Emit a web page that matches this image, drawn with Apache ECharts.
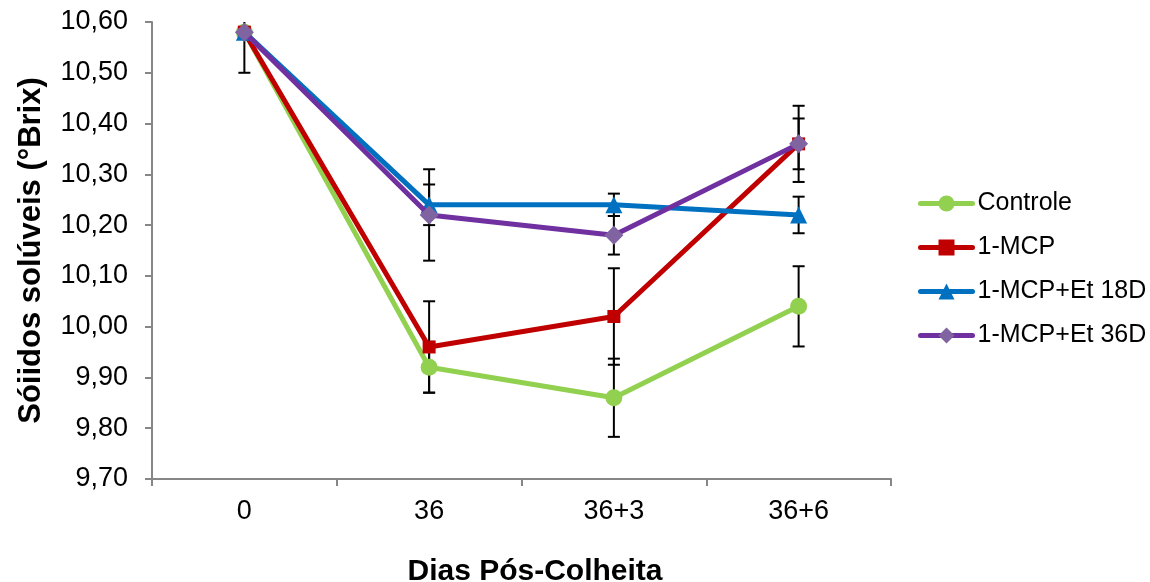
<!DOCTYPE html>
<html>
<head>
<meta charset="utf-8">
<script src="https://cdn.jsdelivr.net/npm/echarts@6/dist/echarts.min.js"></script>
<style>
html,body{margin:0;padding:0;background:#fff;}
#chart{width:1150px;height:582px;}
</style>
</head>
<body>
<div id="chart"></div>
<script>
var categories = ['0', '36', '36+3', '36+6'];
var seriesNames = ['Controle', '1-MCP', '1-MCP+Et 18D', '1-MCP+Et 36D'];
var controle = [10.58, 9.92, 9.86, 10.04];
var mcp = [10.58, 9.96, 10.02, 10.36];
var et18 = [10.58, 10.24, 10.24, 10.22];
var et36 = [10.58, 10.22, 10.18, 10.36];
var errControle = [0.08, 0.05, 0.077, 0.079];
var errMcp = [0.01, 0.09, 0.095, 0.075];
var errEt18 = [0.01, 0.04, 0.022, 0.036];
var errEt36 = [0.01, 0.09, 0.038, 0.05];
var yMin = 9.7, yMax = 10.6, yStep = 0.1;

var FONT = "'Liberation Sans', Arial, sans-serif";
var values = [controle, mcp, et18, et36];
var errors = [errControle, errMcp, errEt18, errEt36];
var lineColors = ['#92D050', '#C00000', '#0070C0', '#7030A0'];
var markColors = ['#92D050', '#C00000', '#0070C0', '#8064A2'];
var symbols = ['circle', 'rect', 'triangle', 'diamond'];
var symbolSizes = [17, 13, 17, 19];

var series = [];
var errData = [];
values.forEach(function (vals, s) {
  vals.forEach(function (v, i) {
    errData.push([i, v - errors[s][i], v + errors[s][i]]);
  });
});
series.push({
  type: 'custom',
  name: 'err',
  z: 1,
  clip: true,
  silent: true,
  data: errData,
  encode: { x: 0, y: [1, 2] },
  renderItem: function (params, api) {
    var lo = api.coord([api.value(0), api.value(1)]);
    var hi = api.coord([api.value(0), api.value(2)]);
    var hw = 6;
    var st = { stroke: '#000', lineWidth: 2, fill: null };
    return {
      type: 'group',
      children: [
        { type: 'line', shape: { x1: lo[0], y1: lo[1], x2: hi[0], y2: hi[1] }, style: st },
        { type: 'line', shape: { x1: lo[0] - hw, y1: lo[1], x2: lo[0] + hw, y2: lo[1] }, style: st },
        { type: 'line', shape: { x1: hi[0] - hw, y1: hi[1], x2: hi[0] + hw, y2: hi[1] }, style: st }
      ]
    };
  }
});
values.forEach(function (vals, s) {
  series.push({
    type: 'line',
    name: seriesNames[s],
    data: vals,
    z: 2 + s,
    symbol: symbols[s],
    symbolSize: symbolSizes[s],
    lineStyle: { color: lineColors[s], width: 5 },
    itemStyle: { color: markColors[s] },
    emphasis: { disabled: true },
    animation: false
  });
});

var chart = echarts.init(document.getElementById('chart'));
chart.setOption({
  animation: false,
  backgroundColor: '#fff',
  grid: { left: 152, right: 259, top: 22, bottom: 103, containLabel: false, outerBoundsMode: 'none' },
  legend: {
    orient: 'vertical',
    left: 913,
    top: 186,
    itemWidth: 52,
    itemHeight: 20,
    itemGap: 19,
    data: seriesNames,
    lineStyle: { width: 5, cap: 'round' },
    textStyle: { fontFamily: FONT, fontSize: 25, color: '#000' }
  },
  xAxis: {
    type: 'category',
    data: categories,
    boundaryGap: true,
    axisLine: { lineStyle: { color: '#868686', width: 2 } },
    axisTick: { show: true, length: 7, alignWithLabel: false, lineStyle: { color: '#868686', width: 2 } },
    axisLabel: { fontFamily: FONT, fontSize: 27, color: '#000', margin: 19 },
    name: 'Dias Pós-Colheita',
    nameLocation: 'middle',
    nameGap: 78,
    nameTextStyle: { fontFamily: FONT, fontSize: 30, fontWeight: 'bold', color: '#000', padding: [0, 0, 0, 27] }
  },
  yAxis: {
    type: 'value',
    min: yMin,
    max: yMax,
    interval: yStep,
    splitLine: { show: false },
    axisLine: { show: true, lineStyle: { color: '#868686', width: 2 } },
    axisTick: { show: true, length: 7, lineStyle: { color: '#868686', width: 2 } },
    axisLabel: {
      fontFamily: FONT, fontSize: 27, color: '#000', margin: 24,
      formatter: function (v) { return v.toFixed(2).replace('.', ','); }
    },
    name: 'Sóiidos solúveis (°Brix)',
    nameLocation: 'middle',
    nameRotate: 90,
    nameGap: 105,
    nameTextStyle: { fontFamily: FONT, fontSize: 31, fontWeight: 'bold', color: '#000' }
  },
  series: series
});
</script>
</body>
</html>
